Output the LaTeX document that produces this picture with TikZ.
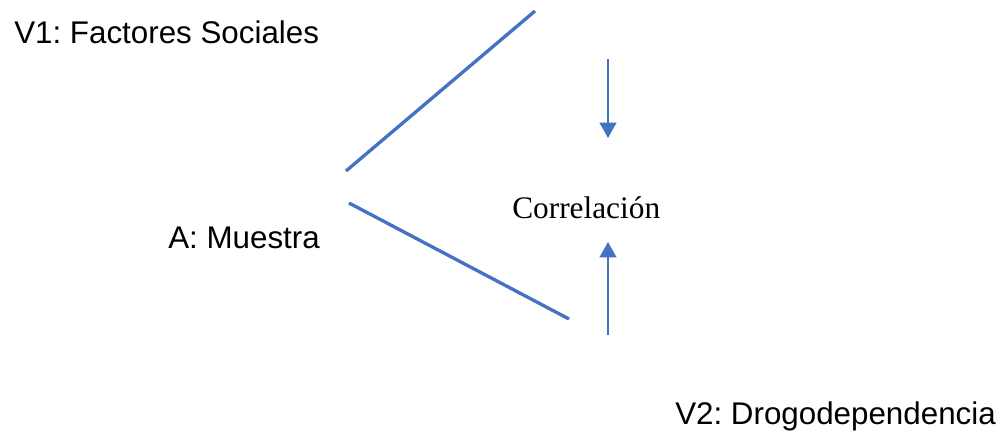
\documentclass[tikz,border=0pt]{standalone}
\usepackage{fontspec}
\setmainfont{Liberation Serif}
\newfontfamily\arialfont{Liberation Sans}
\usetikzlibrary{arrows.meta}
\definecolor{officeblue}{HTML}{4472C4}
\frenchspacing
\tikzstyle{varlabel}=[anchor=base west,inner sep=0pt,font=\arialfont\fontsize{23.5}{28}\selectfont]
\tikzstyle{corrlabel}=[anchor=base west,inner sep=0pt,font=\fontsize{23.5}{28}\selectfont]
\tikzstyle{branch} = [draw,officeblue,line width=2.5pt]
\tikzstyle{flow} = [draw,officeblue,line width=1.5pt,-{Triangle[width=12.5pt,length=11.5pt]}]

\begin{document}
\begin{tikzpicture}[x=0.75pt,y=-0.75pt]
   \useasboundingbox (0,0) rectangle (1006,432);

    % variables and sample
    \node[varlabel] (v1) at (14,43) {V1: Factores Sociales};
    \node[varlabel] (muestra) at (168,248) {A: Muestra};
    \node[varlabel] (v2) at (675,424) {V2: Drogodependencia};
    \node[corrlabel] (corr) at (512,218) {Correlación};

    \coordinate (b1s) at (346,171);
    \coordinate (b1e) at (535,11);
    \coordinate (b2s) at (349,203);
    \coordinate (b2e) at (569,319);
    \coordinate (top1) at (608,59);
    \coordinate (top2) at (608,138);
    \coordinate (bot1) at (608,335);
    \coordinate (bot2) at (608,242);

    % branches and arrows
    \foreach \source/ \dest in {b1s/b1e, b2s/b2e}
        \path[branch] (\source) -- (\dest);
    \foreach \source/ \dest in {top1/top2, bot1/bot2}
        \path[flow] (\source) -- (\dest);

\end{tikzpicture}
\end{document}
